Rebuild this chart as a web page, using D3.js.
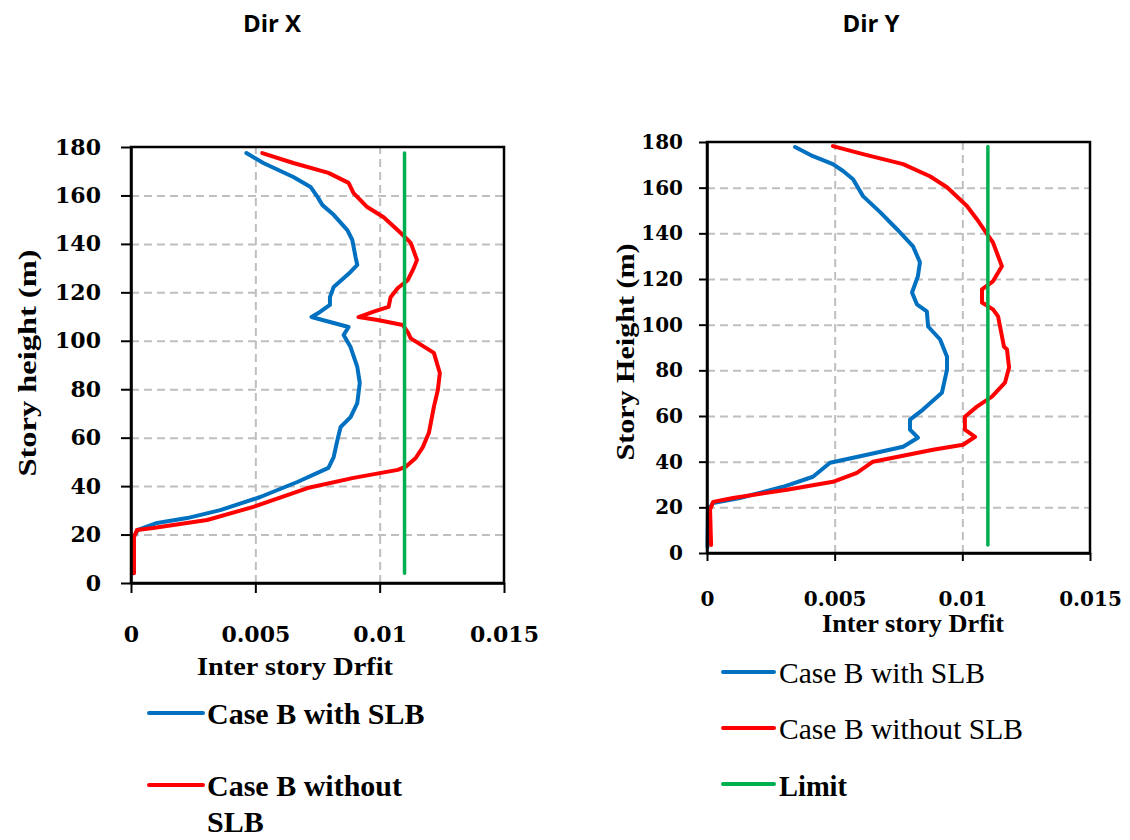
<!DOCTYPE html>
<head>
	<meta charset="utf-8">
	<script src="https://d3js.org/d3.v7.min.js"></script>
	<style>
	    body { margin: 0; background: #fff; }
	    svg { display: block; }
	    .tick line { stroke: #000; stroke-width: 2; }
	    .grid .tick line { stroke: #bfbfbf; stroke-width: 2; stroke-dasharray: 8,5; }
	    .grid .domain { display: none; }
	    .serif { font-family: "Liberation Serif", "Times New Roman", serif; }
	</style>
</head>
<body>
    <script>
        // story height (m) vs inter story drift
        var heightTicks = [0, 20, 40, 60, 80, 100, 120, 140, 160, 180];
        var driftTicks = [0, 0.005, 0.01, 0.015];

        // Dir X : [drift, height]
        var dirXWithSLB = [[0.00464,177.5],[0.00532,173.4],[0.00653,167.6],[0.00722,163.5],[0.0075,159.4],[0.0077,156],
            [0.00815,152],[0.0087,145.7],[0.0089,141.6],[0.00903,134.6],[0.0091,131.3],[0.00883,128.4],[0.00815,122.2],
            [0.008,118],[0.008,114.8],[0.0076,111.9],[0.00726,109.8],[0.0077,108.6],[0.00875,105.7],[0.00855,102.4],
            [0.00883,97.4],[0.0091,89.2],[0.0092,82.6],[0.0091,74.3],[0.00883,68.5],[0.00843,64.4],[0.0083,59],
            [0.00815,52],[0.00794,47.5],[0.00669,41.7],[0.0052,35.5],[0.00359,30.1],[0.00226,26.8],[0.00105,24.8],
            [0.00028,21.9],[0.0001,19],[0.0001,4]];
        var dirXWithoutSLB = [[0.00528,177.5],[0.00653,173.4],[0.00794,169.3],[0.00875,165.2],[0.00895,161],[0.0095,155.2],
            [0.01016,151],[0.01085,144.5],[0.01125,140.4],[0.0115,133.4],[0.01137,130],[0.01113,125],[0.01073,121.8],
            [0.01044,118],[0.01036,114],[0.00976,112],[0.00915,109.8],[0.00992,108.6],[0.01093,106.5],[0.01113,103.6],
            [0.01125,101],[0.01218,95],[0.01242,86.7],[0.01234,79.7],[0.01218,72.7],[0.01198,62],[0.01173,56],
            [0.01145,51.6],[0.01105,48],[0.01073,46.7],[0.00895,43.4],[0.0071,39.2],[0.00492,31.4],[0.00306,26],
            [0.00089,22.7],[0.00024,21.9],[0.00012,19],[0.00012,4]];
        var dirXLimit = [[0.011,177.5],[0.011,4]];

        // Dir Y
        var dirYWithSLB = [[0.00345,177.8],[0.00415,173.8],[0.00493,170.3],[0.00533,167.3],[0.00572,163.7],[0.00611,156.3],
            [0.00678,149.3],[0.00744,141.8],[0.00807,134.3],[0.00834,127.3],[0.00826,121.2],[0.00803,114.1],[0.00822,108.9],
            [0.00861,105.8],[0.00866,99.2],[0.00913,93.5],[0.0094,86],[0.0094,80.3],[0.0092,70.2],[0.00846,62.8],
            [0.00795,58.4],[0.00795,54],[0.00826,50.5],[0.00768,46.5],[0.00627,43],[0.00482,39.5],[0.00415,33.4],
            [0.00298,29],[0.00129,24.1],[0.00024,21.9],[0.00004,18.9],[0.00002,2.6]];
        var dirYWithoutSLB = [[0.00493,178.2],[0.00611,174.7],[0.00768,170.3],[0.00873,165],[0.0094,160.2],[0.01018,152],
            [0.01057,146.2],[0.01097,139.6],[0.0112,136],[0.01155,125.6],[0.0112,119],[0.01077,115.5],[0.01077,109.7],
            [0.0112,106.7],[0.0114,103.6],[0.01163,90.4],[0.01175,89.1],[0.01183,81.2],[0.01167,74.6],[0.01116,68.5],
            [0.01057,64.1],[0.0101,59.7],[0.0101,54],[0.0105,50.9],[0.01003,47.4],[0.00885,45.2],[0.0065,40],
            [0.00587,35.1],[0.00493,31.2],[0.00313,27.7],[0.00102,24.1],[0.00024,22.4],[0.00012,18.9],[0.00016,3.5]];
        var dirYLimit = [[0.011,178],[0.011,3.5]];

        var seriesNames = ["Case B with SLB", "Case B without SLB", "Limit"];
        var colors = ["#0070c0", "#ff0000", "#00b050"];

        ///////////////////////////////////////////////////////////////////////////////

        var svg = d3.select("body").append("svg")
            .attr("width", 1130)
            .attr("height", 840);

        function drawPanel(p) {
            var xScale = d3.scaleLinear().domain([0, 0.015]).range([p.x0, p.x1]);
            var yScale = d3.scaleLinear().domain([0, 180]).range([p.y1, p.y0]);
            var g = svg.append("g");

            // dashed grid
            g.append("g").attr("class", "grid")
                .attr("transform", "translate(" + p.x0 + ",0)")
                .call(d3.axisLeft(yScale).tickValues(heightTicks.slice(1, -1))
                    .tickSize(-(p.x1 - p.x0)).tickFormat(""));
            g.append("g").attr("class", "grid")
                .attr("transform", "translate(0," + p.y1 + ")")
                .call(d3.axisBottom(xScale).tickValues(driftTicks.slice(1, -1))
                    .tickSize(-(p.y1 - p.y0)).tickFormat(""));

            var line = d3.line()
                .x(function(d) { return xScale(d[0]); })
                .y(function(d) { return yScale(d[1]); });

            p.series.forEach(function(s, i) {
                g.append("path")
                    .datum(s)
                    .attr("d", line)
                    .attr("fill", "none")
                    .attr("stroke", colors[i])
                    .attr("stroke-width", i == 2 ? 3.5 : 4)
                    .attr("stroke-linejoin", "round")
                    .attr("stroke-linecap", "round");
            });

            // frame
            g.append("rect")
                .attr("x", p.x0).attr("y", p.y0)
                .attr("width", p.x1 - p.x0).attr("height", p.y1 - p.y0)
                .attr("fill", "none").attr("stroke", "#000").attr("stroke-width", 2.5);

            var yAxis = g.append("g")
                .attr("transform", "translate(" + p.x0 + ",0)")
                .call(d3.axisLeft(yScale).tickValues(heightTicks)
                    .tickSize(p.tick).tickSizeOuter(0).tickPadding(p.ypad));
            var xAxis = g.append("g")
                .attr("transform", "translate(0," + p.y1 + ")")
                .call(d3.axisBottom(xScale).tickValues(driftTicks)
                    .tickSize(p.tick).tickSizeOuter(0).tickPadding(p.xpad)
                    .tickFormat(function(d) { return String(d); }));
            [yAxis, xAxis].forEach(function(a) {
                a.select(".domain").attr("stroke", "#000").attr("stroke-width", 2.5);
                a.selectAll("text")
                    .attr("fill", "#000")
                    .style("font-family", "'DejaVu Serif', serif")
                    .style("font-weight", "bold")
                    .style("font-size", p.tickFont + "px");
            });

            // titles
            svg.append("text")
                .attr("x", p.titleX).attr("y", 32)
                .attr("text-anchor", "middle")
                .style("font-family", "'Open Sans', sans-serif")
                .style("font-weight", "bold")
                .style("font-size", "24px")
                .text(p.title);

            svg.append("text").attr("class", "serif")
                .attr("x", p.xtX).attr("y", p.xtY)
                .attr("text-anchor", "middle")
                .attr("textLength", p.xtLen).attr("lengthAdjust", "spacingAndGlyphs")
                .style("font-weight", "bold").style("font-size", "25px")
                .text("Inter story Drfit");

            svg.append("text").attr("class", "serif")
                .attr("transform", "translate(" + p.ytX + "," + p.ytY + ") rotate(-90)")
                .attr("text-anchor", "middle")
                .attr("textLength", p.ytLen).attr("lengthAdjust", "spacingAndGlyphs")
                .style("font-weight", "bold").style("font-size", "26px")
                .text(p.yTitle);
        }

        drawPanel({
            x0: 131, x1: 504, y0: 147, y1: 583,
            series: [dirXWithSLB, dirXWithoutSLB, dirXLimit],
            tick: 10, ypad: 20, xpad: 33, tickFont: 22,
            title: "Dir X", titleX: 272,
            xtX: 295, xtY: 675, xtLen: 196,
            ytX: 36, ytY: 363, ytLen: 227,
            yTitle: "Story height (m)"
        });

        drawPanel({
            x0: 707, x1: 1090, y0: 142, y1: 553,
            series: [dirYWithSLB, dirYWithoutSLB, dirYLimit],
            tick: 8, ypad: 16, xpad: 31, tickFont: 20,
            title: "Dir Y", titleX: 871,
            xtX: 913, xtY: 632, xtLen: 182,
            ytX: 634, ytY: 352, ytLen: 217,
            yTitle: "Story Height (m)"
        });

        // legend, Dir X (bold, wraps)
        var legX = svg.append("g").attr("class", "serif");
        var legXRows = [
            {i: 0, y: 713, lines: ["Case B with SLB"]},
            {i: 1, y: 785, lines: ["Case B without", "SLB"]}
        ];
        legXRows.forEach(function(r) {
            legX.append("line")
                .attr("x1", 149).attr("x2", 203).attr("y1", r.y).attr("y2", r.y)
                .attr("stroke", colors[r.i]).attr("stroke-width", 4).attr("stroke-linecap", "round");
            r.lines.forEach(function(t, k) {
                legX.append("text")
                    .attr("x", 207).attr("y", r.y + 11 + k * 36)
                    .style("font-weight", "bold").style("font-size", "30px")
                    .text(t);
            });
        });

        // legend, Dir Y
        var legY = svg.append("g").attr("class", "serif");
        var legYRows = [
            {y: 672, len: 206}, {y: 728, len: 244}, {y: 784, len: 68}
        ];
        legYRows.forEach(function(r, i) {
            legY.append("line")
                .attr("x1", 723).attr("x2", 774).attr("y1", r.y).attr("y2", r.y)
                .attr("stroke", colors[i]).attr("stroke-width", 4).attr("stroke-linecap", "round");
            legY.append("text")
                .attr("x", 779).attr("y", r.y + 11 + (i == 2 ? 1 : 0))
                .attr("textLength", r.len).attr("lengthAdjust", "spacingAndGlyphs")
                .style("font-weight", i == 2 ? "bold" : "normal")
                .style("font-size", "30px")
                .text(seriesNames[i]);
        });
    </script>
<body>
